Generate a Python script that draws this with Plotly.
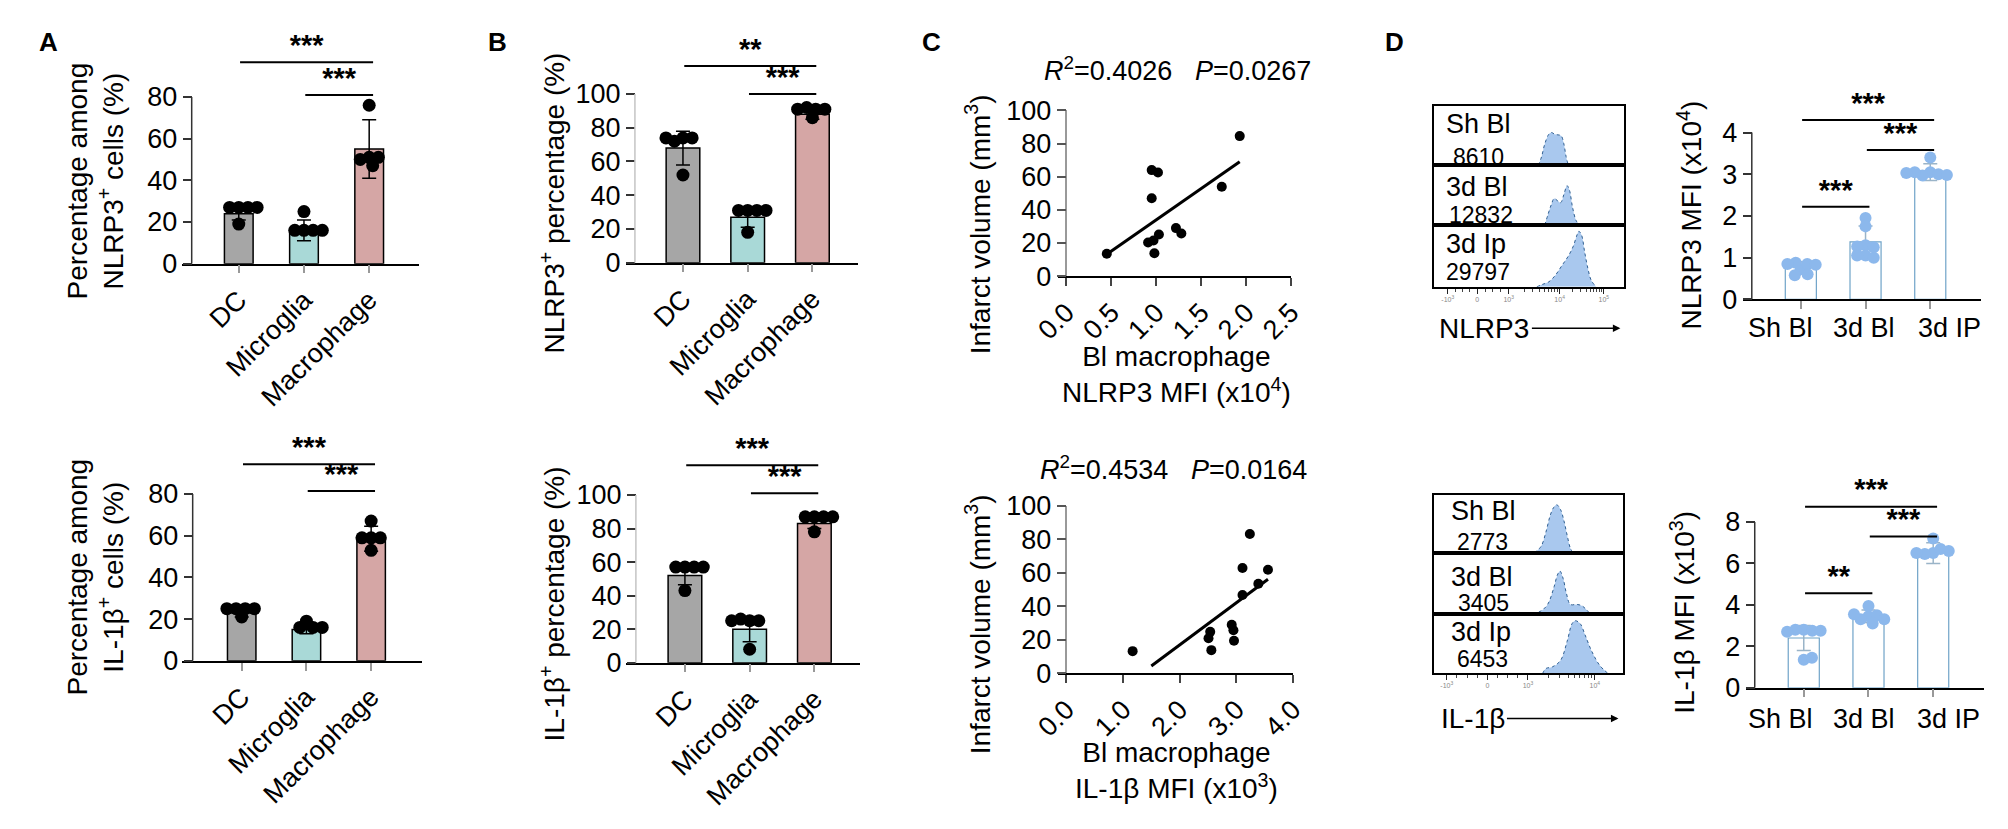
import numpy as np
import plotly.graph_objects as go

W, H = 2008, 829
FONT = 'Liberation Sans, Arial, sans-serif'

# ---------------- data ----------------
cell_types = ['DC', 'Microglia', 'Macrophage']
cell_colors = ['#a6a6a6', '#a9d9d7', '#d5a6a5']

# A: percentage among NLRP3+ / IL-1b+ cells
a_nlrp3_mean = [24, 16, 55]
a_nlrp3_sd = [3, 5, 14]
a_nlrp3_dots = [[19, 27, 27, 27, 27], [25, 16, 16, 16, 16], [76, 51, 47, 51, 50]]

a_il1b_mean = [23, 15, 58.5]
a_il1b_sd = [2, 2, 6]
a_il1b_dots = [[21, 25, 25, 25, 25], [19, 16, 16, 16], [67, 59, 53, 59, 59]]

# B: NLRP3+ / IL-1b+ percentage
b_nlrp3_mean = [68, 27, 88]
b_nlrp3_sd = [10, 6, 3]
b_nlrp3_dots = [[52, 74, 74, 72, 74], [18, 31, 31, 31, 31], [86, 91, 92, 91, 91]]

b_il1b_mean = [52, 20, 83]
b_il1b_sd = [5.5, 7.5, 3]
b_il1b_dots = [[43, 57, 57, 57, 57], [8, 25, 25, 26, 25], [78, 87, 87, 87, 87]]

# C: infarct volume vs BI macrophage MFI
c_nlrp3_mfi = [1.93, 0.95, 1.02, 0.95, 1.73, 1.22, 1.28, 1.03, 0.91, 0.97, 0.98, 0.45]
c_nlrp3_vol = [84.5, 64, 62.6, 47, 53.9, 29, 25.8, 25.2, 20.3, 21.5, 13.8, 13.5]
c_il1b_mfi = [3.24, 3.11, 3.56, 3.39, 3.11, 2.92, 2.95, 2.96, 2.54, 2.51, 2.56, 1.17]
c_il1b_vol = [83.1, 62.8, 61.7, 53.4, 46.7, 28.9, 25.7, 19.4, 24.7, 20.9, 13.8, 13.2]
c_il1b_fit_span = [1.5, 3.56]
c_nlrp3_stats = '<i>R</i><sup>2</sup>=0.4026   <i>P</i>=0.0267'
c_il1b_stats = '<i>R</i><sup>2</sup>=0.4534   <i>P</i>=0.0164'

# D: flow histograms (display channel 0-1000, % of row height)
hist_groups = ['Sh Bl', '3d Bl', '3d Ip']
nlrp3_hist_mfi = ['8610', '12832', '29797']
il1b_hist_mfi = ['2773', '3405', '6453']
nlrp3_hist_ch = [
    [548, 565, 582, 603, 617, 634, 651, 668, 682, 694, 706],
    [582, 600, 617, 631, 648, 665, 682, 699, 711, 728, 746, 763],
    [540, 568, 603, 637, 672, 706, 732, 749, 761, 775, 792, 809, 826, 852],
]
nlrp3_hist_cnt = [
    [0, 14.5, 36, 52, 55, 52, 51, 49.5, 36, 14.5, 0],
    [0, 19, 35, 44.5, 41, 37.5, 51, 66, 59, 29.5, 8, 0],
    [0, 3.7, 8, 18.5, 34.5, 50, 66, 82, 90, 84, 55.5, 29, 10.5, 0],
]
il1b_hist_ch = [
    [531, 565, 591, 613, 631, 648, 668, 686, 703, 720, 734],
    [522, 565, 600, 634, 651, 665, 682, 699, 720, 754, 780, 806, 823],
    [574, 591, 625, 668, 703, 729, 746, 772, 798, 832, 875, 918],
]
il1b_hist_cnt = [
    [0, 11, 36, 64, 78, 83, 75, 55.5, 30.5, 8, 0],
    [0, 4.3, 15, 44, 63, 70, 57.5, 33.5, 15, 15, 13, 6, 0],
    [0, 8, 10.7, 21.4, 53.5, 83, 88, 83, 64, 37.5, 13.3, 0],
]

# D: MFI bar charts
d_groups = ['Sh Bl', '3d Bl', '3d IP']
d_nlrp3_mean = [0.78, 1.38, 3.05]
d_nlrp3_sd = [0.12, 0.38, 0.2]
d_nlrp3_dots = [[0.72, 0.85, 0.88, 0.85, 0.83, 0.6, 0.58],
                [1.3, 1.95, 1.75, 1.05, 1.0, 1.25, 1.27, 1.05],
                [3.05, 3.4, 3.0, 2.97, 3.05, 2.98, 3.03]]
d_il1b_mean = [2.4, 3.45, 6.5]
d_il1b_sd = [0.6, 0.3, 0.5]
d_il1b_dots = [[2.8, 2.75, 2.8, 2.7, 2.75, 1.35, 1.45],
               [3.45, 3.95, 3.5, 3.3, 3.1, 3.3, 3.55],
               [6.5, 7.2, 6.7, 6.45, 6.6, 6.5]]

# ---------------- helpers ----------------
fig = go.Figure()
layout = dict(width=W, height=H, margin=dict(l=0, r=0, t=0, b=0),
              paper_bgcolor='white', plot_bgcolor='white', showlegend=False,
              font=dict(family=FONT, color='black'))
annotations = []
shapes = []
axis_count = [0]


def new_axes():
    axis_count[0] += 1
    s = '' if axis_count[0] == 1 else str(axis_count[0])
    return 'xaxis' + s, 'yaxis' + s, 'x' + s, 'y' + s


def xd(x0, x1):
    return [x0 / W, x1 / W]


def yd(top, bot):
    return [1 - bot / H, 1 - top / H]


def text(x, y, s, size, xanchor='center', **kw):
    annotations.append(dict(x=x / W, y=1 - y / H, xref='paper', yref='paper', text=s,
                            xanchor=xanchor, yanchor='middle', showarrow=False,
                            font=dict(size=size, family=FONT, color='black'), **kw))


def swarm(vals, px_per_unit, d):
    # simple beeswarm: offsets in px, dots kept at least d apart
    placed, offs = [], []
    for v in vals:
        y = v * px_per_unit
        cands = [0.0]
        for px, py in placed:
            dy = y - py
            if abs(dy) < d:
                dx = (d * d - dy * dy) ** 0.5
                cands += [px + dx, px - dx]
        cands.sort(key=abs)
        for c in cands:
            if all((c - px) ** 2 + (y - py) ** 2 >= d * d - 1e-6 for px, py in placed):
                break
        placed.append((c, y))
        offs.append(c)
    return offs


def bar_panel(cats, means, sds, dots, box, ymax, dtick, ytitle, title_at, brackets, st,
              label_shift=None, label_y=None):
    xa, ya, xr, yr = new_axes()
    x0, yax, x1, top, bot, c0, step = box
    n = len(cats)
    ppu = (bot - top) / ymax
    # extend the range upward so the significance bars stay inside it
    ytop = max(b[3] for b in brackets) * 1.01
    top_ext = bot - ytop * ppu
    layout[xa] = dict(domain=xd(x0, x1), range=[(x0 - c0) / step, (x1 - c0) / step], anchor=yr,
                      tickmode='array', tickvals=list(range(n)), ticktext=cats,
                      showticklabels=label_shift is None,
                      tickangle=st['tickangle'], showline=True, linecolor='black', linewidth=1.5,
                      ticks='outside', ticklen=8, tickcolor='#999', tickwidth=1.5,
                      tickfont=dict(size=27), showgrid=False, zeroline=False)
    layout[ya] = dict(domain=yd(top_ext, bot), range=[0, ytop], anchor='free', position=yax / W,
                      tickmode='array', tickvals=list(np.arange(0, ymax + dtick / 2, dtick)),
                      showline=False, ticks='outside', ticklen=9, tickcolor=st['tickcolor'],
                      tickwidth=1.5, tickfont=dict(size=27), showgrid=False, zeroline=False)
    shapes.append(dict(type='line', xref='paper', x0=yax / W, x1=yax / W, yref=yr, y0=0, y1=ymax,
                       line=dict(color=st['ycolor'], width=1.5)))
    fig.add_trace(go.Bar(x=list(range(n)), y=means, width=st['width'],
                         marker=dict(color=st['fill'], line=dict(color=st['edge'], width=st['edgew'])),
                         error_y=dict(type='data', array=sds, color=st['err'], thickness=1.5, width=7),
                         xaxis=xr, yaxis=yr))
    xs, ys = [], []
    for i, vals in enumerate(dots):
        offs = swarm(vals, ppu, st['dot'] * 0.72)
        xs += [i + o / step for o in offs]
        ys += list(vals)
    fig.add_trace(go.Scatter(x=xs, y=ys, mode='markers', cliponaxis=False,
                             marker=dict(size=st['dot'], color=st['dotc'], line=dict(width=0)),
                             xaxis=xr, yaxis=yr))
    bx, by, tx, ty, tt = [], [], [], [], []
    for i, j, lab, lvl in brackets:
        bx += [i + 0.02, j + 0.06, None]
        by += [lvl, lvl, None]
        tx.append((i + j) / 2 + 0.04)
        ty.append(lvl)
        tt.append('<b>' + lab + '</b>')
    fig.add_trace(go.Scatter(x=bx, y=by, mode='lines', cliponaxis=False,
                             line=dict(color='black', width=2), xaxis=xr, yaxis=yr))
    fig.add_trace(go.Scatter(x=tx, y=ty, mode='text', text=tt, textposition='top center',
                             cliponaxis=False, textfont=dict(size=29, color='black', family=FONT),
                             xaxis=xr, yaxis=yr))
    text(title_at[0], title_at[1], ytitle, 28, textangle=-90)
    if label_shift is not None:
        for i, (cat, sh) in enumerate(zip(cats, label_shift)):
            text(c0 + i * step + sh, label_y, cat, 27)


def corr_panel(xv, yv, span, box, xmax, xdt, ytitle, title_at, xtitle, xtitle_at, stats, stats_at):
    xa, ya, xr, yr = new_axes()
    x0, yax, x1, top, bot = box
    ppx = (x1 - yax) / xmax
    layout[xa] = dict(domain=xd(x0, x1), range=[(x0 - yax) / ppx, xmax], anchor=yr,
                      tickmode='linear', tick0=0, dtick=xdt, tickformat='.1f', tickangle=-45,
                      showline=True, linecolor='black', linewidth=1.5, ticks='outside', ticklen=8,
                      tickcolor='#444', tickwidth=1.5, tickfont=dict(size=27),
                      showgrid=False, zeroline=False)
    layout[ya] = dict(domain=yd(top, bot), range=[0, 100], anchor='free', position=yax / W,
                      dtick=20, showline=True, linecolor='#999', linewidth=1.5, ticks='outside',
                      ticklen=9, tickcolor='#555', tickwidth=1.5, tickfont=dict(size=27),
                      showgrid=False, zeroline=False)
    slope, icpt = np.polyfit(xv, yv, 1)
    fx = np.array(span)
    fig.add_trace(go.Scatter(x=fx, y=slope * fx + icpt, mode='lines', cliponaxis=False,
                             line=dict(color='black', width=3), xaxis=xr, yaxis=yr))
    fig.add_trace(go.Scatter(x=xv, y=yv, mode='markers', cliponaxis=False,
                             marker=dict(size=10, color='black'), xaxis=xr, yaxis=yr))
    text(title_at[0], title_at[1], ytitle, 28, textangle=-90)
    text(xtitle_at[0], xtitle_at[1], xtitle, 28)
    text(stats_at[0], stats_at[1], stats, 27, xanchor='left')


def hist_panel(chs, cnts, mfis, box_x, rows, tickvals, ticktext, name_at, num_at, marker, marker_at):
    for r, (ch, cnt) in enumerate(zip(chs, cnts)):
        xa, ya, xr, yr = new_axes()
        last = r == len(chs) - 1
        ax = dict(domain=xd(*box_x), range=[0, 1000], anchor=yr, showline=True, mirror=True,
                  linecolor='black', linewidth=1.5, showgrid=False, zeroline=False,
                  showticklabels=False, ticks='')
        if last:
            minor = []
            for a, b in zip(tickvals[2:-1], tickvals[3:]):
                minor += [a + (b - a) * np.log10(k) for k in range(2, 10)]
            for a, b in zip(tickvals[:2], tickvals[1:3]):
                minor += [a + (b - a) * f for f in (0.25, 0.5, 0.75)]
            ax.update(showticklabels=True, ticks='outside', ticklen=5, tickwidth=1.2,
                      tickcolor='#222', tickmode='array', tickvals=tickvals, ticktext=ticktext,
                      tickfont=dict(size=7, color='#888'),
                      minor=dict(tickvals=minor, ticks='outside', ticklen=3, tickcolor='#444'))
        layout[xa] = ax
        layout[ya] = dict(domain=yd(*rows[r]), range=[0, 100], anchor=xr, showline=True,
                          mirror=True, linecolor='black', linewidth=1.5, showgrid=False,
                          zeroline=False, showticklabels=False, ticks='')
        fig.add_trace(go.Scatter(x=ch, y=cnt, mode='lines', fill='tozeroy', fillcolor='#a9c8ee',
                                 line=dict(color='#2f5f92', width=1, dash='dot', shape='spline'),
                                 xaxis=xr, yaxis=yr))
        text(name_at[r][0], name_at[r][1], hist_groups[r], 27, xanchor='left')
        text(num_at[r][0], num_at[r][1], mfis[r], 23, xanchor='left')
    text(marker_at[0], marker_at[1], marker, 28, xanchor='left')
    annotations.append(dict(x=marker_at[3] / W, y=1 - marker_at[1] / H, xref='paper', yref='paper',
                            text='', showarrow=True, ax=-(marker_at[3] - marker_at[2]), ay=0,
                            arrowhead=2, arrowsize=1, arrowwidth=1.5, arrowcolor='black', standoff=0))


# ---------------- styles ----------------
style_a = dict(fill=cell_colors, edge='black', edgew=1.5, err='black', dot=13, dotc='black',
               ycolor='#333', tickcolor='#333', width=0.44, tickangle=-45)
style_b = dict(style_a, ycolor='#c4c4c4', width=0.52)
style_d = dict(fill='white', edge='#6fa3c8', edgew=1.2, err='#9ab4c8', dot=12, dotc='#8cb8ec',
               ycolor='#333', tickcolor='#333', width=0.48, tickangle=0)

# ---------------- panels ----------------
bar_panel(cell_types, a_nlrp3_mean, a_nlrp3_sd, a_nlrp3_dots, (160, 170, 402, 85, 258, 218, 66.5),
          80, 20, 'Percentage among<br>NLRP3<sup>+</sup> cells (%)', (72, 172),
          [(0, 2, '***', 96.6), (1, 2, '***', 80.9)], style_a)
bar_panel(cell_types, a_il1b_mean, a_il1b_sd, a_il1b_dots, (160, 171, 405, 497, 670, 221, 66),
          80, 20, 'Percentage among<br>IL-1β<sup>+</sup> cells (%)', (72, 583),
          [(0, 2, '***', 94.3), (1, 2, '***', 81.4)], style_a)
bar_panel(cell_types, b_nlrp3_mean, b_nlrp3_sd, b_nlrp3_dots, (613, 622, 850, 82, 257, 671, 66),
          100, 20, 'NLRP3<sup>+</sup> percentage (%)', (538, 195),
          [(0, 2, '**', 116.6), (1, 2, '***', 100)], style_b)
bar_panel(cell_types, b_il1b_mean, b_il1b_sd, b_il1b_dots, (613, 623, 852, 498, 672, 673, 66),
          100, 20, 'IL-1β<sup>+</sup> percentage (%)', (538, 611),
          [(0, 2, '***', 117.8), (1, 2, '***', 101.1)], style_b)

corr_panel(c_nlrp3_mfi, c_nlrp3_vol, [min(c_nlrp3_mfi), max(c_nlrp3_mfi)],
           (1053, 1062, 1291, 99, 271), 2.5, 0.5, 'Infarct volume (mm<sup>3</sup>)', (972, 217),
           'Bl macrophage<br>NLRP3 MFI (x10<sup>4</sup>)', (1174, 373), c_nlrp3_stats, (1037, 56))
corr_panel(c_il1b_mfi, c_il1b_vol, c_il1b_fit_span,
           (1053, 1062, 1293, 509, 683), 4.0, 1.0, 'Infarct volume (mm<sup>3</sup>)', (972, 632),
           'Bl macrophage<br>IL-1β MFI (x10<sup>3</sup>)', (1174, 784), c_il1b_stats, (1033, 470))

hist_panel(nlrp3_hist_ch, nlrp3_hist_cnt, nlrp3_hist_mfi, (1437, 1631),
           [(94, 156), (156, 218), (218, 282)], [72, 227, 392, 660, 892],
           ['-10<sup>3</sup>', '0', '10<sup>3</sup>', '10<sup>4</sup>', '10<sup>5</sup>'],
           [(1447, 113), (1447, 178), (1447, 238)], [(1454, 147), (1450, 208), (1447, 267)],
           'NLRP3', (1440, 325, 1537, 1627))
hist_panel(il1b_hist_ch, il1b_hist_cnt, il1b_hist_mfi, (1437, 1630),
           [(498, 558), (558, 621), (621, 683)], [67, 282, 496, 849],
           ['-10<sup>3</sup>', '0', '10<sup>3</sup>', '10<sup>4</sup>'],
           [(1452, 515), (1452, 583), (1452, 640)], [(1458, 547), (1459, 610), (1458, 668)],
           'IL-1β', (1442, 730, 1512, 1625))

bar_panel(d_groups, d_nlrp3_mean, d_nlrp3_sd, d_nlrp3_dots, (1752, 1761, 1995, 122, 295, 1811, 66),
          4, 1, 'NLRP3 MFI (x10<sup>4</sup>)', (1698, 208),
          [(0, 2, '***', 4.30), (1, 2, '***', 3.58), (0, 1, '***', 2.22)], style_d,
          label_shift=[-21, -2, 20], label_y=325)
bar_panel(d_groups, d_il1b_mean, d_il1b_sd, d_il1b_dots, (1755, 1764, 1998, 526, 698, 1814, 66),
          8, 2, 'IL-1β MFI (x10<sup>3</sup>)', (1690, 620),
          [(0, 2, '***', 8.74), (1, 2, '***', 7.30), (0, 1, '**', 4.56)], style_d,
          label_shift=[-24, -5, 16], label_y=730)

for lab, x in zip(['A', 'B', 'C', 'D'], [24, 482, 924, 1397]):
    text(x, 28, '<b>' + lab + '</b>', 26)

layout['annotations'] = annotations
layout['shapes'] = shapes
fig.update_layout(**layout)
fig.write_html("out.html", config={'displayModeBar': False},
               post_script="document.body.style.margin='0px';")
